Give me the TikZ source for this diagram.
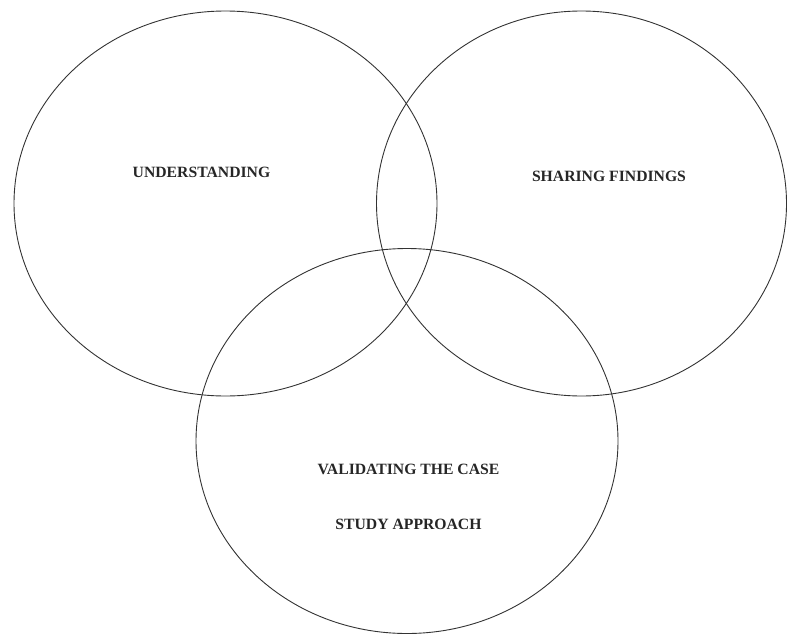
\documentclass[tikz,border=0pt]{standalone}
\usepackage{fontspec}
\setmainfont{Liberation Serif}
\usetikzlibrary{shapes.geometric}
\begin{document}
\begin{tikzpicture}[x=1pt,y=-1pt,
  ring/.style={draw=black!80,line width=0.9pt},
  caption/.style={font=\fontsize{15.7}{18}\selectfont\bfseries,text=black!85,inner sep=0pt,anchor=center}]
\useasboundingbox (0,0) rectangle (787,634);
% the three overlapping sets
\draw[ring] (225.5,203.5) ellipse [x radius=211.5, y radius=192.5];
\draw[ring] (581.5,203.5) ellipse [x radius=205, y radius=192.5];
\draw[ring] (407,441) ellipse [x radius=211, y radius=192.5];
% set labels
\node[caption] (understand) at (201.5,172) {UNDERSTANDING};
\node[caption] (share) at (609,176) {SHARING FINDINGS};
\node[caption] (validate) at (408.5,469) {VALIDATING THE CASE};
\node[caption] (approach) at (408.5,524) {STUDY APPROACH};
\end{tikzpicture}
\end{document}
